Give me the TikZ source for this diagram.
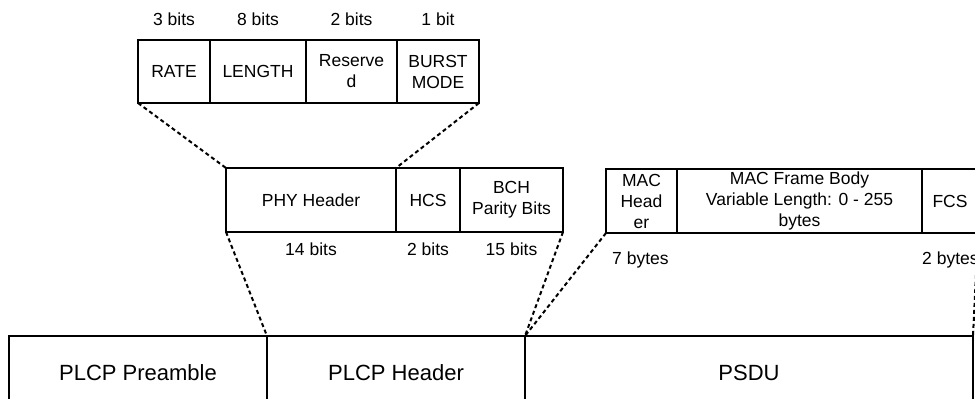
\documentclass[tikz,border=0pt]{standalone}
\usepackage{fontspec}
\setmainfont{Liberation Sans}
\usetikzlibrary{positioning}
\tikzset{
  field/.style={draw, rectangle, line width=1.8pt, inner sep=0pt, outer sep=0pt,
    align=center, minimum height=64pt, font=\fontsize{17.5}{21}\selectfont},
  frame/.style={field, line width=2pt, minimum height=74pt, font=\fontsize{22}{26}\selectfont},
  size/.style={inner sep=0pt, font=\fontsize{17.5}{21}\selectfont},
  zoomline/.style={line width=2pt, dash pattern=on 4pt off 3pt},
}
\begin{document}
\begin{tikzpicture}[x=1pt,y=-1pt]
    \useasboundingbox (0,0) rectangle (975,399);
    \clip (0,0) rectangle (975,399);
    % PHY header fields
    \node[field, minimum width=72pt, minimum height=63pt, anchor=north west] (rate) at (138,40) {RATE};
    \node[field, minimum width=96pt, minimum height=63pt, right=0pt of rate] (length) {LENGTH};
    \node[field, minimum width=91pt, minimum height=63pt, right=0pt of length] (reserved) {Reserve\\d};
    \node[field, minimum width=82pt, minimum height=63pt, right=0pt of reserved] (burst) {BURST\\MODE};
    \node[size, above=14pt of rate] (rbits) {3 bits};
    \node[size, above=14pt of length] (lbits) {8 bits};
    \node[size, above=14pt of reserved] (resbits) {2 bits};
    \node[size, above=14pt of burst] (bbits) {1 bit};
    % PLCP header
    \node[field, minimum width=170pt, anchor=north west] (phy) at (226,168) {PHY Header};
    \node[field, minimum width=64pt, right=0pt of phy] (hcs) {HCS};
    \node[field, minimum width=103pt, right=0pt of hcs] (bch) {BCH\\Parity Bits};
    \node[size, below=11pt of phy] (pbits) {14 bits};
    \node[size, below=11pt of hcs] (hbits) {2 bits};
    \node[size, below=11pt of bch] (cbits) {15 bits};
    % MAC frame
    \node[field, minimum width=71pt, anchor=north west] (machdr) at (606,169) {MAC\\Head\\er};
    \node[field, minimum width=245pt, right=0pt of machdr] (body) {MAC Frame Body\\Variable Length: 0 - 255\\bytes};
    \node[field, minimum width=56pt, right=0pt of body] (fcs) {FCS};
    \node[size, below right=19pt and 6pt of machdr.south west] (mbytes) {7 bytes};
    \node[size, below right=19pt and 0pt of fcs.south west] (fbytes) {2 bytes};
    % PPDU
    \node[frame, minimum width=258pt, anchor=north west] (preamble) at (9,336) {PLCP Preamble};
    \node[frame, minimum width=258pt, right=0pt of preamble] (header) {PLCP Header};
    \node[frame, minimum width=448pt, right=0pt of header] (psdu) {PSDU};
    % zoom lines
    \draw[zoomline] (rate.south west) -- (phy.north west);
    \draw[zoomline] (burst.south east) -- (hcs.north west);
    \draw[zoomline] (phy.south west) -- (header.north west);
    \draw[zoomline] (bch.south east) -- (psdu.north west);
    \draw[zoomline] (machdr.south west) -- (psdu.north west);
    \draw[zoomline] (fcs.south east) -- (psdu.north east);
\end{tikzpicture}
\end{document}
